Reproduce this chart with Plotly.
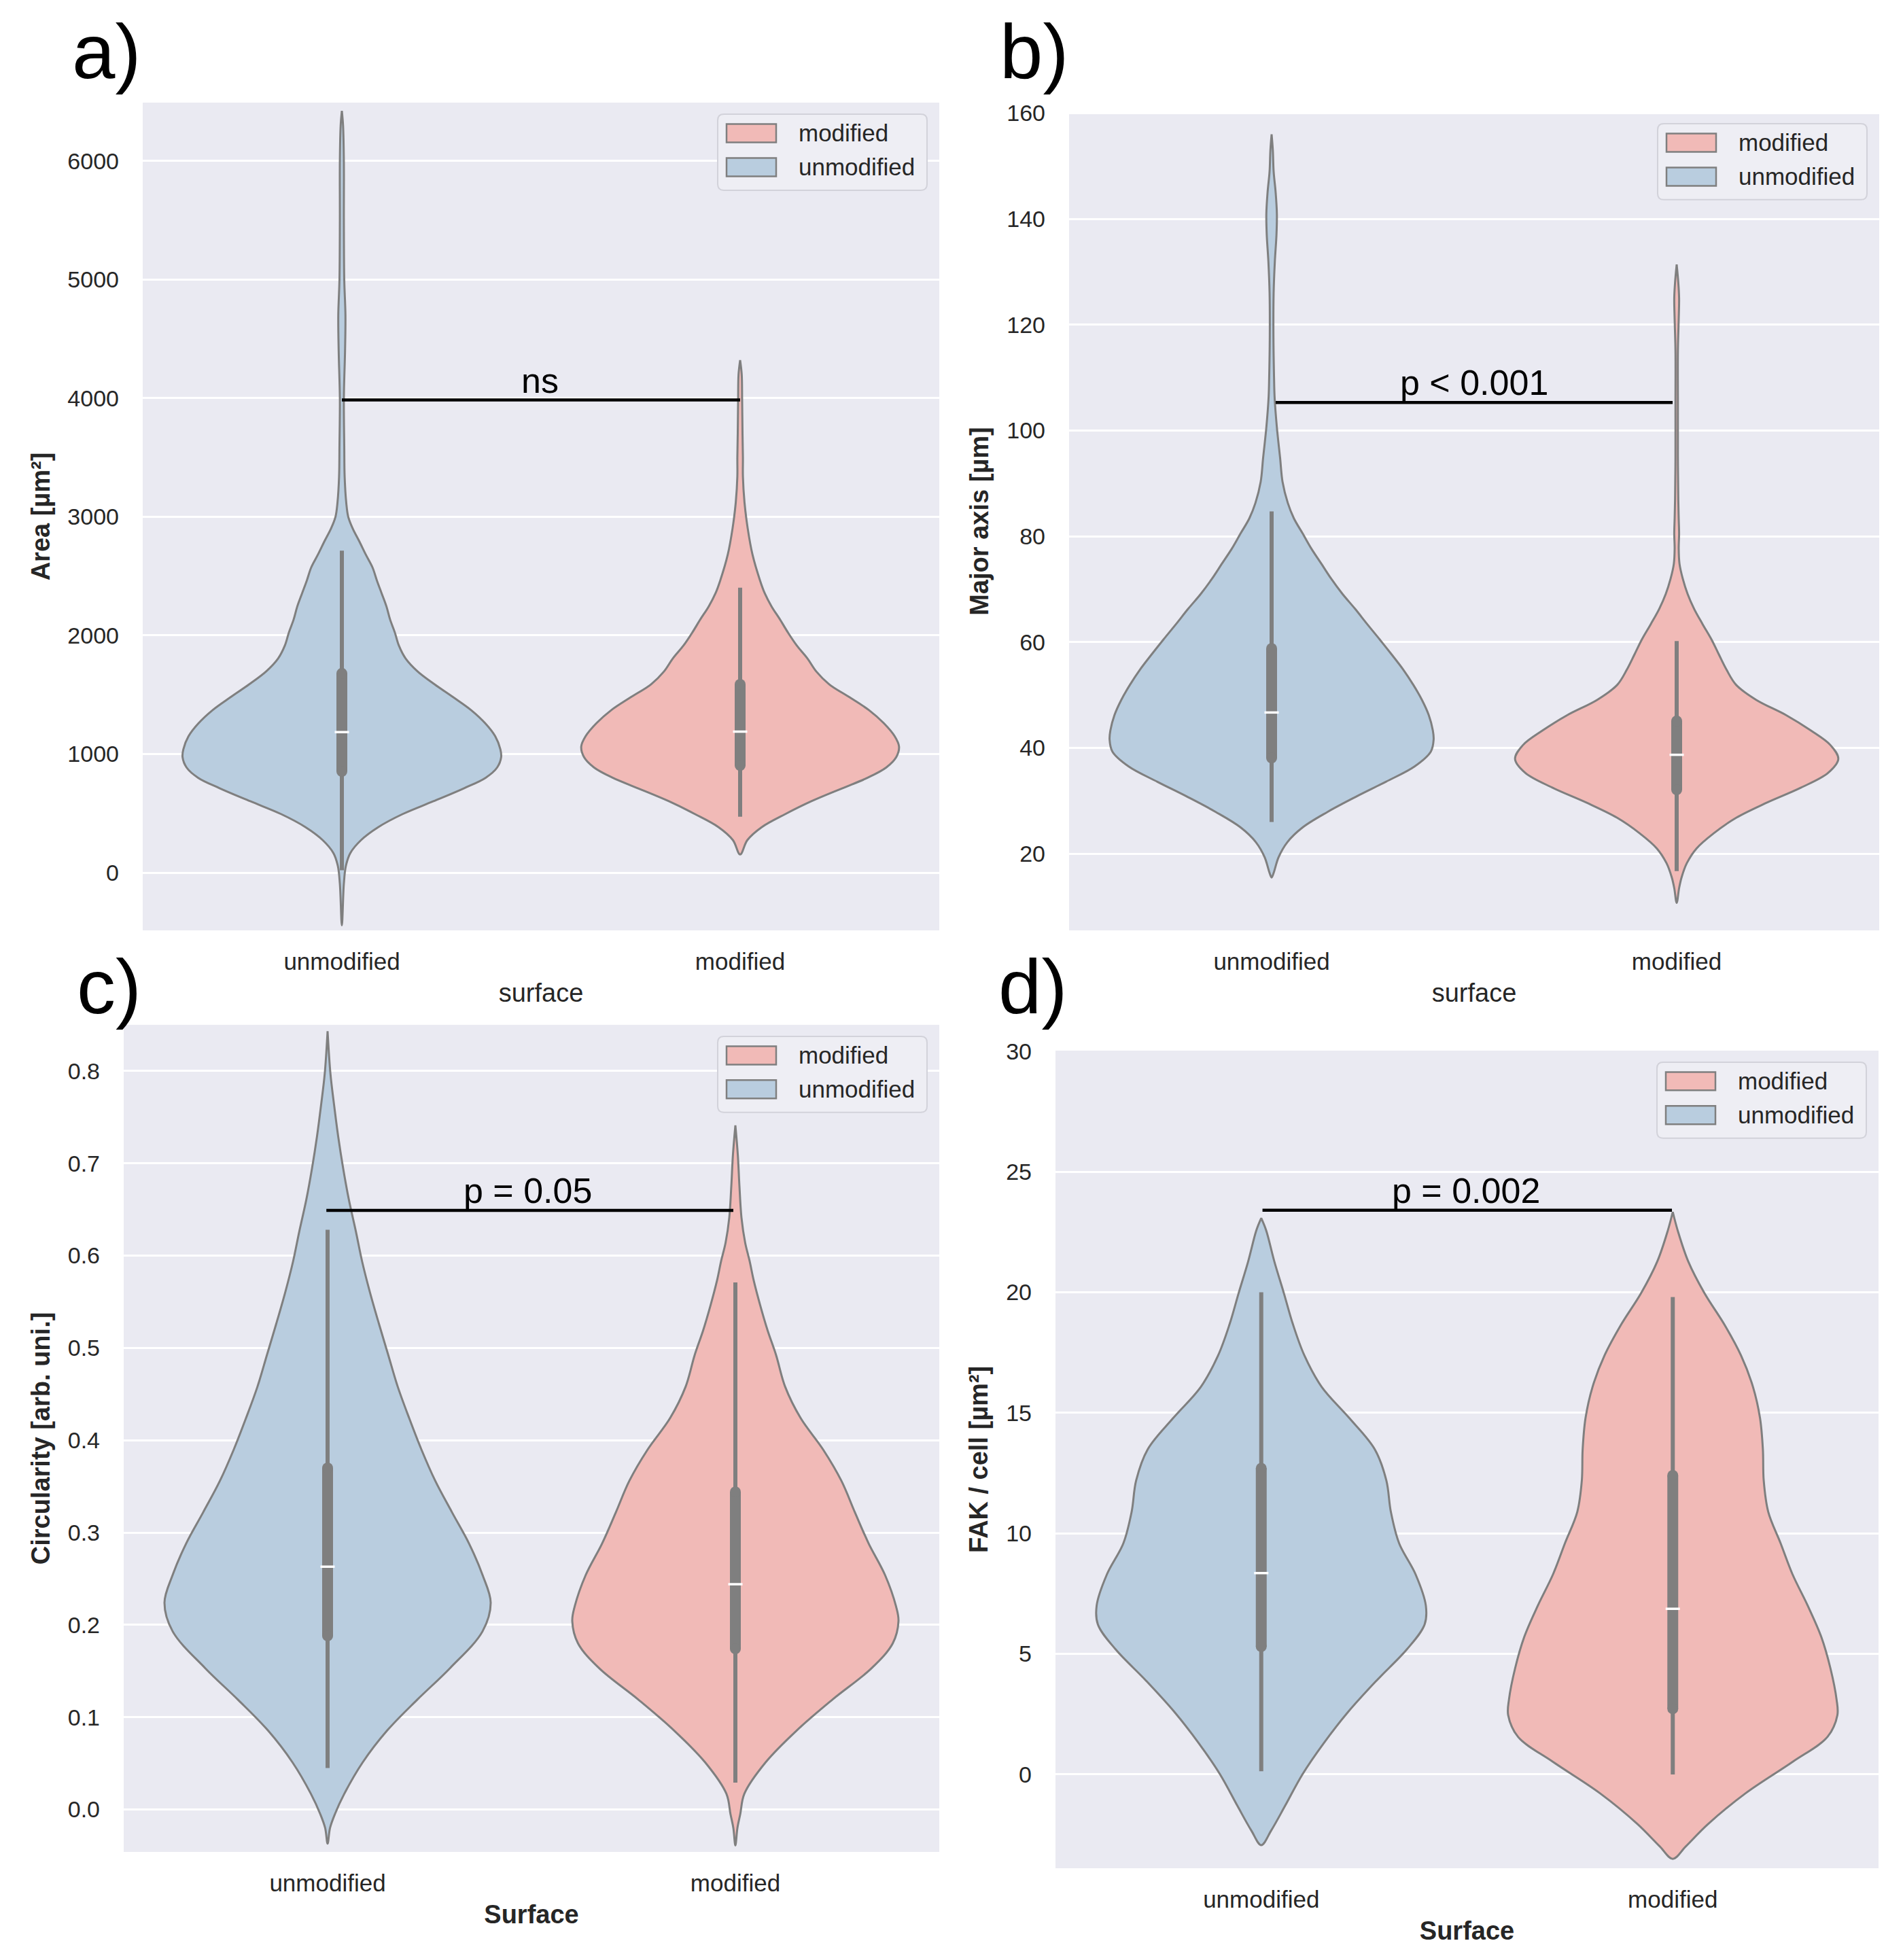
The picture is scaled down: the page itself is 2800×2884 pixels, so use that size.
import plotly.graph_objects as go

# ---------------- data ----------------
CATS = ["unmodified", "modified"]

# violin outlines: value levels and half-widths (category units)
area_unmod_y = [-444, -94, 55, 164, 274, 383, 493, 602, 712, 800, 887, 974, 1040, 1150, 1259, 1369, 1478, 1587,
                1697, 1806, 1916, 2025, 2135, 2244, 2354, 2463, 2573, 2682, 2792, 2903, 3000, 3120, 3339, 3600,
                4000, 4400, 4700, 5000, 5500, 6000, 6300, 6422]
area_unmod_w = [0, 0.005, 0.01, 0.021, 0.048, 0.091, 0.152, 0.23, 0.307, 0.361, 0.39, 0.40, 0.398, 0.385, 0.36,
                0.325, 0.28, 0.233, 0.19, 0.16, 0.143, 0.133, 0.121, 0.112, 0.10, 0.088, 0.077, 0.06, 0.044,
                0.027, 0.016, 0.011, 0.007, 0.006, 0.005, 0.008, 0.009, 0.006, 0.005, 0.005, 0.003, 0]
area_mod_y = [153, 274, 383, 493, 602, 712, 800, 887, 974, 1062, 1150, 1259, 1369, 1478, 1587, 1697, 1806, 1916,
              2025, 2135, 2244, 2354, 2463, 2682, 2903, 3120, 3339, 3500, 3700, 4000, 4200, 4321]
area_mod_w = [0, 0.018, 0.054, 0.113, 0.179, 0.257, 0.32, 0.367, 0.392, 0.399, 0.388, 0.361, 0.324, 0.275,
              0.224, 0.191, 0.169, 0.142, 0.12, 0.1, 0.079, 0.062, 0.05, 0.031, 0.019, 0.011, 0.007, 0.007,
              0.006, 0.005, 0.004, 0]

major_unmod_y = [15.5, 16.6, 19.3, 22.2, 25.0, 27.9, 30.8, 33.6, 36.5, 39.3, 41.6, 43.3, 46.2, 49.1, 51.9, 54.8,
                 57.7, 60.5, 63.4, 66.3, 69.1, 72.0, 74.8, 77.7, 80.5, 83.4, 86.3, 90.3, 94.8, 100.6, 106.3,
                 110, 118, 126, 132, 137, 141, 145, 149, 153, 156]
major_unmod_w = [0, 0.006, 0.017, 0.039, 0.077, 0.138, 0.209, 0.282, 0.353, 0.393, 0.40, 0.398, 0.388, 0.371,
                 0.35, 0.325, 0.296, 0.267, 0.236, 0.206, 0.175, 0.147, 0.123, 0.098, 0.077, 0.055, 0.04,
                 0.027, 0.021, 0.013, 0.0074, 0.006, 0.0045, 0.005, 0.008, 0.012, 0.013, 0.01, 0.005, 0.003, 0]
major_mod_y = [10.7, 13.5, 15.5, 18.2, 21.0, 23.9, 26.8, 29.6, 32.5, 35.3, 37.9, 40.5, 43.3, 46.2, 49.1, 51.9,
               54.8, 57.7, 60.5, 63.4, 66.3, 69.1, 72.0, 74.8, 77.7, 80.5, 83.4, 87, 95, 105, 115, 121, 125,
               128, 131.4]
major_mod_w = [0, 0.006, 0.012, 0.025, 0.049, 0.092, 0.147, 0.221, 0.307, 0.374, 0.399, 0.38, 0.331, 0.27,
               0.196, 0.147, 0.123, 0.104, 0.086, 0.064, 0.043, 0.027, 0.015, 0.007, 0.005, 0.006, 0.005,
               0.004, 0.003, 0.003, 0.003, 0.005, 0.006, 0.004, 0]

circ_unmod_y = [-0.037, -0.02, -0.005, 0.017, 0.051, 0.085, 0.119, 0.153, 0.193, 0.224, 0.254, 0.288, 0.322,
                0.356, 0.390, 0.424, 0.458, 0.492, 0.526, 0.560, 0.593, 0.627, 0.661, 0.695, 0.729, 0.763,
                0.797, 0.843]
circ_unmod_w = [0, 0.006, 0.018, 0.041, 0.086, 0.145, 0.22, 0.30, 0.38, 0.40, 0.38, 0.347, 0.305, 0.264, 0.23,
                0.2, 0.172, 0.149, 0.126, 0.104, 0.085, 0.069, 0.052, 0.038, 0.026, 0.016, 0.007, 0]
circ_mod_y = [-0.039, -0.02, -0.005, 0.017, 0.051, 0.085, 0.119, 0.153, 0.180, 0.204, 0.220, 0.254, 0.288,
              0.322, 0.356, 0.390, 0.424, 0.458, 0.492, 0.519, 0.546, 0.573, 0.594, 0.614, 0.641, 0.675,
              0.709, 0.741]
circ_mod_w = [0, 0.005, 0.012, 0.022, 0.074, 0.149, 0.238, 0.334, 0.386, 0.40, 0.394, 0.367, 0.327, 0.293,
              0.26, 0.215, 0.16, 0.122, 0.1, 0.079, 0.061, 0.045, 0.035, 0.024, 0.015, 0.01, 0.006, 0]

fak_unmod_y = [-2.93, -2.33, -1.30, 0.0, 1.30, 2.59, 3.89, 5.19, 6.22, 7.0, 8.30, 9.59, 10.89, 12.19, 13.48,
               14.78, 16.07, 17.37, 18.67, 19.96, 21.26, 22.56, 23.07]
fak_unmod_w = [0, 0.024, 0.058, 0.10, 0.152, 0.211, 0.28, 0.354, 0.397, 0.40, 0.375, 0.335, 0.315, 0.304,
               0.276, 0.214, 0.147, 0.105, 0.077, 0.055, 0.032, 0.012, 0]
fak_mod_y = [-3.50, -2.98, -2.07, -0.78, 0.52, 1.56, 2.46, 3.11, 4.41, 5.70, 7.0, 8.30, 9.59, 10.89, 12.19,
             13.48, 14.78, 16.07, 17.37, 18.67, 19.96, 21.26, 22.56, 23.33]
fak_mod_w = [0, 0.032, 0.085, 0.177, 0.291, 0.376, 0.40, 0.398, 0.383, 0.361, 0.328, 0.291, 0.262, 0.232,
             0.221, 0.219, 0.212, 0.195, 0.166, 0.125, 0.077, 0.038, 0.012, 0]

# box statistics: [whisker low, q1, median, q3, whisker high]
area_unmod_box = [20, 854, 1185, 1680, 2715]
area_mod_box = [471, 904, 1189, 1588, 2402]
major_unmod_box = [26.0, 38.1, 46.7, 58.8, 84.7]
major_mod_box = [16.7, 32.1, 38.7, 45.1, 60.2]
circ_unmod_box = [0.045, 0.188, 0.263, 0.370, 0.628]
circ_mod_box = [0.029, 0.174, 0.244, 0.344, 0.571]
fak_unmod_box = [0.13, 5.3, 8.35, 12.7, 20.0]
fak_mod_box = [0.0, 2.72, 6.87, 12.4, 19.8]

# significance bars: [y level, x start, x end], label
area_sig = [3985, 0.0, 1.0]
major_sig = [105.3, 0.01, 0.99]
circ_sig = [0.649, -0.003, 0.995]
fak_sig = [23.4, 0.003, 0.998]
sig_labels = ["ns", "p < 0.001", "p = 0.05", "p = 0.002"]

# tick values
area_ticks = [0, 1000, 2000, 3000, 4000, 5000, 6000]
major_ticks = [20, 40, 60, 80, 100, 120, 140, 160]
circ_ticks = [0.0, 0.1, 0.2, 0.3, 0.4, 0.5, 0.6, 0.7, 0.8]
fak_ticks = [0, 5, 10, 15, 20, 25, 30]

y_titles = ["Area [µm²]", "Major axis [µm]", "Circularity [arb. uni.]", "FAK / cell [µm²]"]
x_titles = ["surface", "surface", "<b>Surface</b>", "<b>Surface</b>"]
panel_labels = ["a)", "b)", "c)", "d)"]
legend_order = ["modified", "unmodified"]

# ---------------- style ----------------
W, H = 2800, 2884
BLUE = "#b9cddf"
RED = "#f1bab7"
GRAY = "#7f7f7f"
TXT = "#262626"
BG = "#eaeaf2"
FONT = "Liberation Sans, Arial, sans-serif"
COLORS = {"unmodified": BLUE, "modified": RED}


def fx(p):
    return p / W


def fy(p):
    q = p * 1.0055 - 16
    return 1 - q / H


panels = [
    dict(dom=(210, 1382, 149, 1368), yr=[-487, 6492], ticks=area_ticks, fmt="",
         vio=[(area_unmod_y, area_unmod_w, area_unmod_box), (area_mod_y, area_mod_w, area_mod_box)],
         sig=area_sig, sx=0.497, lab=(156, 73)),
    dict(dom=(1573, 2765, 163, 1368), yr=[5.5, 160.2], ticks=major_ticks, fmt="",
         vio=[(major_unmod_y, major_unmod_w, major_unmod_box), (major_mod_y, major_mod_w, major_mod_box)],
         sig=major_sig, sx=0.50, lab=(1521, 73)),
    dict(dom=(182, 1382, 1507, 2725), yr=[-0.046, 0.850], ticks=circ_ticks, fmt=".1f",
         vio=[(circ_unmod_y, circ_unmod_w, circ_unmod_box), (circ_mod_y, circ_mod_w, circ_mod_box)],
         sig=circ_sig, sx=0.49, lab=(160, 1451)),
    dict(dom=(1553, 2764, 1545, 2749), yr=[-3.89, 30.02], ticks=fak_ticks, fmt="",
         vio=[(fak_unmod_y, fak_unmod_w, fak_unmod_box), (fak_mod_y, fak_mod_w, fak_mod_box)],
         sig=fak_sig, sx=0.497, lab=(1520, 1451)),
]

fig = go.Figure()
layout = dict(width=W, height=H, margin=dict(l=0, r=0, t=0, b=0), paper_bgcolor="white",
              plot_bgcolor=BG, showlegend=False, font=dict(family=FONT, color=TXT))
shapes = []
annotations = []


def rrect_path(x0, y0, x1, y1, r):
    pts = [
        f"M{fx(x0 + r)},{fy(y0)}", f"L{fx(x1 - r)},{fy(y0)}", f"Q{fx(x1)},{fy(y0)} {fx(x1)},{fy(y0 + r)}",
        f"L{fx(x1)},{fy(y1 - r)}", f"Q{fx(x1)},{fy(y1)} {fx(x1 - r)},{fy(y1)}",
        f"L{fx(x0 + r)},{fy(y1)}", f"Q{fx(x0)},{fy(y1)} {fx(x0)},{fy(y1 - r)}",
        f"L{fx(x0)},{fy(y0 + r)}", f"Q{fx(x0)},{fy(y0)} {fx(x0 + r)},{fy(y0)}", "Z"]
    return " ".join(pts)


for i, p in enumerate(panels):
    sfx = "" if i == 0 else str(i + 1)
    xa, ya = "x" + sfx, "y" + sfx
    x0, x1, y0, y1 = p["dom"]
    layout["xaxis" + sfx] = dict(
        domain=[fx(x0), fx(x1)], range=[-0.5, 1.5], anchor=ya, tickmode="array", tickvals=[0, 1],
        ticktext=CATS, showgrid=False, zeroline=False, showline=False, ticks="", ticklabelstandoff=22,
        tickfont=dict(size=35, color=TXT, family=FONT),
        title=dict(text=x_titles[i], font=dict(size=38, color=TXT, family=FONT), standoff=14))
    layout["yaxis" + sfx] = dict(
        domain=[fy(y1), fy(y0)], range=p["yr"], anchor=xa, tickmode="array", tickvals=p["ticks"],
        tickformat=p["fmt"], showgrid=True, gridcolor="white", gridwidth=2.5, zeroline=False,
        showline=False, ticks="", ticklabelstandoff=34, tickfont=dict(size=34, color=TXT, family=FONT),
        title=dict(text="<b>" + y_titles[i] + "</b>", font=dict(size=38, color=TXT, family=FONT),
                   standoff=14))

    for k, (vy, vw, box) in enumerate(p["vio"]):
        xc = k
        col = COLORS[CATS[k]]
        xs = [xc + w for w in vw] + [xc - w for w in reversed(vw)]
        ys = list(vy) + list(reversed(vy))
        fig.add_trace(go.Scatter(x=xs, y=ys, mode="lines", fill="toself", fillcolor=col,
                                 line=dict(color=GRAY, width=3, shape="spline", smoothing=1.0),
                                 xaxis=xa, yaxis=ya, hoverinfo="skip", showlegend=False))
        wlo, q1, med, q3, whi = box
        fig.add_trace(go.Scatter(x=[xc, xc], y=[wlo, whi], mode="lines", line=dict(color=GRAY, width=6),
                                 xaxis=xa, yaxis=ya, hoverinfo="skip", showlegend=False))
        fig.add_trace(go.Scatter(x=[xc, xc], y=[q1, q3], mode="lines+markers",
                                 line=dict(color=GRAY, width=16),
                                 marker=dict(symbol="circle", size=16, color=GRAY, line=dict(width=0)),
                                 xaxis=xa, yaxis=ya, hoverinfo="skip", showlegend=False))
        fig.add_trace(go.Scatter(x=[xc], y=[med], mode="markers",
                                 marker=dict(symbol="line-ew", size=15, line=dict(color="white", width=3.5)),
                                 xaxis=xa, yaxis=ya, hoverinfo="skip", showlegend=False))

    # significance bar
    sy, sx0, sx1 = p["sig"]
    fig.add_trace(go.Scatter(x=[sx0, sx1], y=[sy, sy], mode="lines", line=dict(color="black", width=4.5),
                             xaxis=xa, yaxis=ya, hoverinfo="skip", showlegend=False))
    annotations.append(dict(x=p["sx"], y=sy, xref=xa, yref=ya, text=sig_labels[i], showarrow=False,
                            xanchor="center", yanchor="bottom", yshift=-2,
                            font=dict(size=52, color="black", family=FONT)))

    # panel label
    lx, ly = p["lab"]
    annotations.append(dict(x=fx(lx), y=fy(ly), xref="paper", yref="paper", text=panel_labels[i],
                            showarrow=False, xanchor="center", yanchor="middle",
                            font=dict(size=114, color="black", family=FONT)))

    # legend (drawn box)
    lx1 = x1 - 18
    lx0 = lx1 - 308
    ly0 = y0 + 17
    ly1 = ly0 + 112
    shapes.append(dict(type="path", xref="paper", yref="paper", path=rrect_path(lx0, ly0, lx1, ly1, 9),
                       fillcolor="#eeeef4", line=dict(color="#d2d2da", width=2), layer="above"))
    for r, name in enumerate(legend_order):
        cy = ly0 + 28 + 50 * r
        shapes.append(dict(type="rect", xref="paper", yref="paper", x0=fx(lx0 + 13), x1=fx(lx0 + 86),
                           y0=fy(cy + 13.5), y1=fy(cy - 13.5), fillcolor=COLORS[name],
                           line=dict(color=GRAY, width=2.5), layer="above"))
        annotations.append(dict(x=fx(lx0 + 117), y=fy(cy), xref="paper", yref="paper", text=name,
                                showarrow=False, xanchor="left", yanchor="middle",
                                font=dict(size=35, color=TXT, family=FONT)))

layout["shapes"] = shapes
layout["annotations"] = annotations
fig.update_layout(**layout)
fig.write_html("out.html", config={"displayModeBar": False},
               post_script="document.body.style.margin='0px'; document.body.style.overflow='hidden';")
